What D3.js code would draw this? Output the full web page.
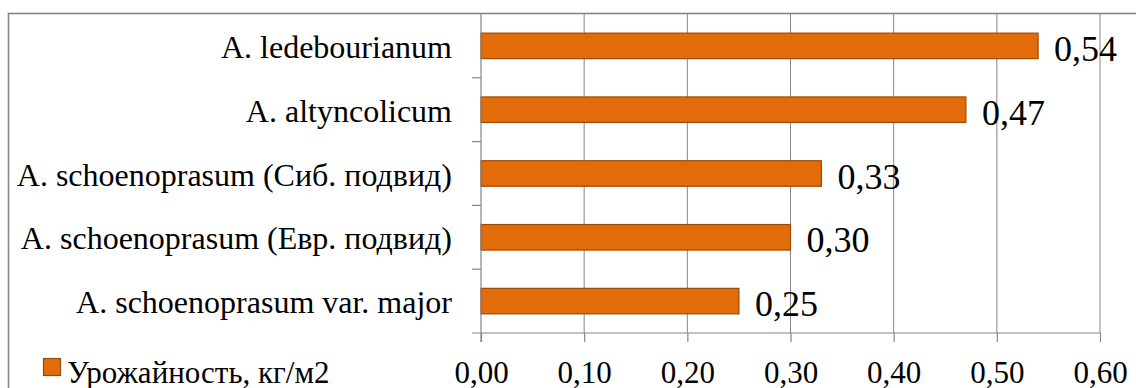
<!DOCTYPE html>
<html><head><meta charset="utf-8">
<script src="https://cdn.jsdelivr.net/npm/d3@7/dist/d3.min.js"></script>
<style>html,body{margin:0;padding:0;background:#fff;overflow:hidden}</style>
</head><body>
<svg id="chart" width="1136" height="388"></svg>
<script>
const categories = [
  "A. ledebourianum",
  "A. altyncolicum",
  "A. schoenoprasum (Сиб. подвид)",
  "A. schoenoprasum (Евр. подвид)",
  "A. schoenoprasum var. major"
];
const values = [0.54, 0.47, 0.33, 0.30, 0.25];
const xTicks = [0, 0.1, 0.2, 0.3, 0.4, 0.5, 0.6];
const seriesName = "Урожайность, кг/м2";

(function () {
const FONT = "'Liberation Serif','Times New Roman',serif";
const GRID = "#868686";
const FILL = "#E36C0A";
const STROKE = "#9C4A08";

const svg = d3.select("#chart");
svg.append("rect").attr("x", 0).attr("y", 0).attr("width", 1136).attr("height", 388).attr("fill", "#fff");
// outer chart border (extends past the viewport on right/bottom)
svg.append("rect").attr("x", 8.5).attr("y", 13.5).attr("width", 1140).attr("height", 400)
  .attr("fill", "none").attr("stroke", GRID).attr("stroke-width", 1.6);

const pLeft = 481, pRight = 1100, pTop = 14, pBottom = 333;
const x = d3.scaleLinear().domain([0, 0.6]).range([pLeft, pRight]);
const y = d3.scaleBand().domain(categories).range([pTop, pBottom]).paddingInner(0.6).paddingOuter(0.3);
const yb = d3.scaleBand().domain(categories).range([pTop, pBottom]);

// vertical gridlines
svg.append("g").selectAll("line").data(xTicks.slice(1)).join("line")
  .attr("x1", d => x(d)).attr("x2", d => x(d)).attr("y1", pTop).attr("y2", pBottom)
  .attr("stroke", GRID).attr("stroke-width", 1);

// bars
svg.append("g").selectAll("rect").data(values).join("rect")
  .attr("x", x(0)).attr("y", (d, i) => y(categories[i]))
  .attr("width", d => x(d) - x(0)).attr("height", y.bandwidth())
  .attr("fill", FILL).attr("stroke", STROKE).attr("stroke-width", 1.2);

// x axis
const xAxis = d3.axisBottom(x).tickValues(xTicks).tickSize(9).tickPadding(20)
  .tickFormat(d => d3.format(".2f")(d).replace(".", ","));
const gx = svg.append("g").attr("transform", `translate(0,${pBottom})`).call(xAxis);
gx.select(".domain").remove();
gx.selectAll(".tick line").attr("stroke", GRID).attr("stroke-width", 1.2);
gx.selectAll(".tick text").attr("font-family", FONT).attr("font-size", 31).attr("fill", "#000")
  .attr("dy", null).attr("y", 50);
svg.append("line").attr("x1", pLeft - 9).attr("x2", pRight).attr("y1", pBottom).attr("y2", pBottom)
  .attr("stroke", GRID).attr("stroke-width", 1.2);

// y axis line and category boundary ticks
svg.append("line").attr("x1", pLeft).attr("x2", pLeft).attr("y1", pTop).attr("y2", pBottom + 9)
  .attr("stroke", GRID).attr("stroke-width", 1.2);
svg.append("g").selectAll("line").data(categories.slice(1)).join("line")
  .attr("x1", pLeft - 9).attr("x2", pLeft)
  .attr("y1", d => yb(d)).attr("y2", d => yb(d))
  .attr("stroke", GRID).attr("stroke-width", 1.2);

// category labels
svg.append("g").selectAll("text").data(categories).join("text")
  .attr("x", pLeft - 29).attr("y", d => yb(d) + yb.bandwidth() / 2 + 12)
  .attr("text-anchor", "end").attr("font-family", FONT).attr("font-size", 32).attr("fill", "#000")
  .text(d => d);

// data labels
svg.append("g").selectAll("text").data(values).join("text")
  .attr("x", d => x(d) + 16).attr("y", (d, i) => yb(categories[i]) + yb.bandwidth() / 2 + 15)
  .attr("font-family", FONT).attr("font-size", 36).attr("fill", "#000")
  .text(d => d3.format(".2f")(d).replace(".", ","));

// legend
svg.append("rect").attr("x", 43.5).attr("y", 358.5).attr("width", 17).attr("height", 17)
  .attr("fill", FILL).attr("stroke", STROKE).attr("stroke-width", 1.2);
svg.append("text").attr("x", 67).attr("y", 383).attr("font-family", FONT).attr("font-size", 31)
  .attr("fill", "#000").text(seriesName);
})();
</script>
</body></html>
